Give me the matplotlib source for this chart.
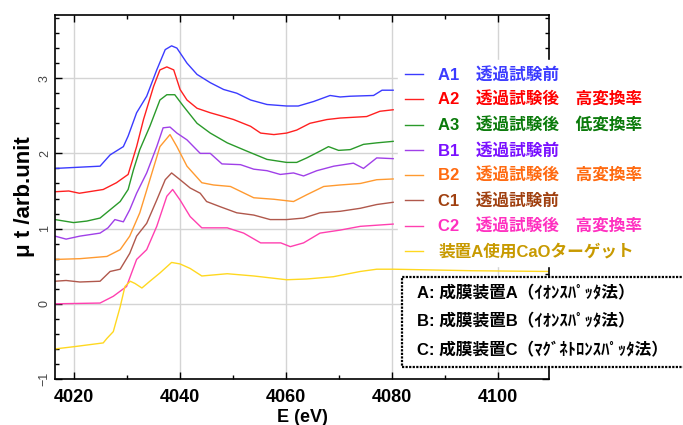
import matplotlib
matplotlib.use('Agg')
import matplotlib.pyplot as plt
from matplotlib.patches import Rectangle
from matplotlib.ticker import MultipleLocator

plt.rcParams['font.family'] = ['Liberation Sans', 'Noto Sans CJK JP', 'DejaVu Sans']

# エネルギー(eV)と各試料のμt (読み取り値)
a1_x = [4016.4, 4024.9, 4026.8, 4029.3, 4030.2, 4031.8, 4033.7, 4035.6, 4037.2, 4038.4, 4039.4,
        4041.3, 4043.2, 4045.7, 4048.2, 4050.7, 4053.3, 4056.4, 4060.1, 4062.3, 4065.2, 4068.3,
        4070.2, 4072.1, 4076.5, 4078.1, 4080.2]
a1_y = [1.80, 1.83, 1.98, 2.09, 2.23, 2.54, 2.76, 3.11, 3.38, 3.43, 3.40,
        3.20, 3.05, 2.94, 2.85, 2.80, 2.71, 2.65, 2.63, 2.63, 2.69, 2.77,
        2.75, 2.76, 2.77, 2.84, 2.84]

a2_x = [4016.4, 4019.0, 4021.0, 4025.5, 4028.0, 4030.2, 4031.8, 4033.1, 4035.0, 4036.2, 4037.5,
        4038.8, 4040.0, 4041.3, 4043.2, 4045.7, 4048.2, 4050.1, 4053.3, 4055.2, 4057.7, 4060.1,
        4062.0, 4064.5, 4067.7, 4070.2, 4072.7, 4075.2, 4077.7, 4080.2]
a2_y = [1.49, 1.50, 1.47, 1.52, 1.61, 1.72, 2.09, 2.45, 2.89, 3.11, 3.15,
        3.11, 2.85, 2.71, 2.60, 2.54, 2.49, 2.45, 2.36, 2.27, 2.25, 2.27,
        2.31, 2.40, 2.45, 2.47, 2.48, 2.49, 2.56, 2.58]

a3_x = [4016.4, 4019.9, 4022.4, 4024.9, 4026.8, 4028.7, 4030.2, 4031.2, 4032.4, 4034.3, 4036.2,
        4037.5, 4039.0, 4040.6, 4043.2, 4045.7, 4048.9, 4052.6, 4056.4, 4060.1, 4062.0, 4063.9,
        4066.4, 4068.0, 4069.9, 4072.1, 4074.6, 4077.1, 4080.2]
a3_y = [1.12, 1.08, 1.10, 1.14, 1.25, 1.36, 1.52, 1.78, 2.05, 2.36, 2.71,
        2.78, 2.78, 2.63, 2.40, 2.27, 2.14, 2.03, 1.92, 1.88, 1.88, 1.94,
        2.03, 2.09, 2.04, 2.05, 2.12, 2.14, 2.16]

b1_x = [4016.4, 4018.5, 4021.1, 4024.9, 4026.4, 4027.7, 4029.3, 4030.5, 4031.8, 4033.7, 4035.6,
        4036.8, 4038.1, 4039.4, 4041.3, 4043.8, 4045.7, 4047.9, 4051.4, 4053.9, 4056.4, 4058.9,
        4061.4, 4063.3, 4065.8, 4069.0, 4072.7, 4074.6, 4077.1, 4080.2]
b1_y = [0.90, 0.86, 0.90, 0.94, 1.01, 1.12, 1.09, 1.25, 1.47, 1.74, 2.09,
        2.34, 2.35, 2.27, 2.18, 2.00, 2.00, 1.86, 1.85, 1.79, 1.77, 1.72,
        1.74, 1.70, 1.77, 1.83, 1.87, 1.80, 1.94, 1.93]

b2_x = [4016.4, 4021.1, 4026.2, 4028.7, 4030.5, 4032.4, 4034.3, 4036.2, 4038.1, 4039.4, 4041.3,
        4044.1, 4046.3, 4049.5, 4053.9, 4057.7, 4061.4, 4063.9, 4067.1, 4070.2, 4074.0, 4077.1,
        4080.2]
b2_y = [0.59, 0.60, 0.63, 0.72, 0.90, 1.21, 1.65, 2.09, 2.25, 2.09, 1.83,
        1.61, 1.58, 1.56, 1.41, 1.39, 1.36, 1.45, 1.56, 1.58, 1.60, 1.65,
        1.66]

c1_x = [4016.4, 4018.5, 4021.1, 4024.9, 4026.8, 4028.7, 4030.5, 4031.8, 4033.7, 4035.6, 4037.2,
        4038.4, 4040.0, 4041.9, 4043.8, 4045.0, 4047.6, 4050.7, 4053.9, 4057.0, 4060.1, 4063.3,
        4066.4, 4070.2, 4074.0, 4077.1, 4080.2]
c1_y = [0.30, 0.31, 0.29, 0.30, 0.43, 0.46, 0.67, 0.90, 1.07, 1.38, 1.65,
        1.74, 1.65, 1.54, 1.47, 1.36, 1.29, 1.21, 1.18, 1.12, 1.12, 1.14,
        1.21, 1.23, 1.27, 1.32, 1.35]

c2_x = [4016.4, 4024.9, 4027.4, 4029.9, 4031.8, 4033.7, 4035.6, 4037.5, 4038.6, 4040.0, 4041.9,
        4044.1, 4048.9, 4052.0, 4055.2, 4059.0, 4060.8, 4063.3, 4066.4, 4070.2, 4074.0, 4080.2]
c2_y = [0.00, 0.01, 0.10, 0.23, 0.59, 0.72, 1.03, 1.43, 1.52, 1.38, 1.16,
        1.01, 1.01, 0.94, 0.81, 0.81, 0.76, 0.81, 0.94, 0.98, 1.03, 1.06]

cao_x = [4016.4, 4020.0, 4025.5, 4026.2, 4027.4, 4028.7, 4029.6, 4030.6, 4031.5, 4032.8, 4034.3,
         4036.2, 4038.4, 4040.0, 4041.9, 4044.1, 4048.9, 4053.9, 4060.1, 4063.9, 4068.9, 4074.0,
         4077.1, 4080.3, 4095.0, 4109.5]
cao_y = [-0.60, -0.57, -0.52, -0.46, -0.37, -0.04, 0.23, 0.30, 0.27, 0.21, 0.30,
         0.41, 0.55, 0.53, 0.47, 0.37, 0.40, 0.37, 0.32, 0.33, 0.36, 0.43,
         0.46, 0.46, 0.44, 0.43]

labels = ['A1　透過試験前', 'A2　透過試験後　高変換率', 'A3　透過試験後　低変換率',
          'B1　透過試験前', 'B2　透過試験後　高変換率', 'C1　透過試験前',
          'C2　透過試験後　高変換率', '装置A使用CaOターゲット']
notes = ['A: 成膜装置A（ｲｵﾝｽﾊﾟｯﾀ法）', 'B: 成膜装置B（ｲｵﾝｽﾊﾟｯﾀ法）',
         'C: 成膜装置C（ﾏｸﾞﾈﾄﾛﾝｽﾊﾟｯﾀ法）']

series = [(a1_x, a1_y), (a2_x, a2_y), (a3_x, a3_y), (b1_x, b1_y),
          (b2_x, b2_y), (c1_x, c1_y), (c2_x, c2_y), (cao_x, cao_y)]
line_colors = ['#3b3bff', '#ff2020', '#2a9a2a', '#a040e8', '#ff9a30', '#b0584c', '#ff40b0', '#ffd820']
text_colors = ['#3b3bff', '#ff0000', '#0a7a0a', '#7a10ff', '#ff6a10', '#a04010', '#ff30c0', '#c89a00']

fig = plt.figure(figsize=(6.83, 4.25), dpi=100)
ax = fig.add_axes([0.0805, 0.1082, 0.7233, 0.8565])

for (x, y), c, lab in zip(series, line_colors, labels):
    ax.plot(x, y, color=c, lw=1.0, label=lab)

ax.set_xlim(4016.4, 4109.6)
ax.set_ylim(-1, 3.84)
ax.xaxis.set_major_locator(MultipleLocator(20))
ax.xaxis.set_minor_locator(MultipleLocator(10))
ax.yaxis.set_major_locator(MultipleLocator(1))
ax.yaxis.set_minor_locator(MultipleLocator(0.2))
ax.grid(True, which='major', color='#d4d4d4', lw=1.0)
ax.set_axisbelow(True)
ax.tick_params(which='both', direction='in', top=True, right=True, width=1)
ax.tick_params(which='major', length=5)
ax.tick_params(which='minor', length=3)
ax.tick_params(axis='x', labelsize=13, pad=7)
ax.tick_params(axis='y', labelsize=9, labelcolor='#444444', pad=3)
for t in ax.get_xticklabels():
    t.set_fontweight('bold')
for t in ax.get_yticklabels():
    t.set_rotation(90)
    t.set_va('center')
for s in ax.spines.values():
    s.set_linewidth(1.2)

ax.set_xlabel('E (eV)', fontsize=13, fontweight='bold', labelpad=2)
ax.set_ylabel('μ t /arb.unit', fontsize=16, fontweight='bold', labelpad=3)

leg = ax.legend(loc='upper left', bbox_to_anchor=(390 / 683, 1 - 52 / 425),
                bbox_transform=fig.transFigure, handlelength=1.1,
                handletextpad=0.9, labelspacing=0.56, borderpad=0.4,
                frameon=True, fancybox=False, framealpha=1, edgecolor='white',
                prop={'weight': 'bold', 'size': 12})
for t, c in zip(leg.get_texts(), text_colors):
    t.set_color(c)
leg.set_zorder(5)

box = Rectangle((402 / 683, 1 - 367 / 425), 0.5, 90 / 425, transform=fig.transFigure,
                facecolor='white', edgecolor='black', lw=1.6, linestyle=(0, (1, 0.6)),
                zorder=6)
fig.patches.append(box)
for i, n in enumerate(notes):
    fig.text(417 / 683, 1 - (293 + 28.5 * i) / 425, n, fontsize=12, fontweight='bold',
             va='center', ha='left', zorder=7)

fig.savefig('out.png', dpi=100)
